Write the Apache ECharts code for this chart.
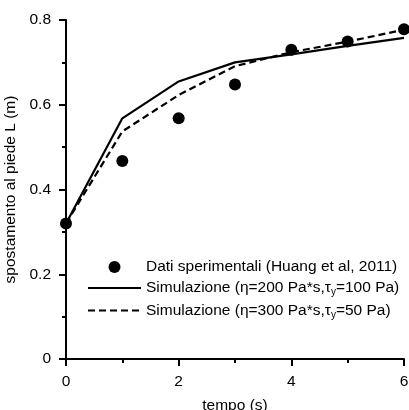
<!DOCTYPE html>
<html>
<head>
<meta charset="utf-8">
<script src="https://cdn.jsdelivr.net/npm/echarts@6/dist/echarts.min.js"></script>
<style>
  html, body { margin: 0; padding: 0; background: #fff; }
  #chart { width: 409px; height: 410px; }
</style>
</head>
<body>
<div id="chart"></div>
<script>
// tempo (s)
const tempo = [0, 1, 2, 3, 4, 5, 6];
// experimental points
const datiSperimentali = [0.32, 0.467, 0.568, 0.648, 0.73, 0.749, 0.778];
// simulation eta=200, tau_y=100
const sim200 = [0.32, 0.568, 0.655, 0.70, 0.719, 0.739, 0.758];
// simulation eta=300, tau_y=50
const sim300 = [0.32, 0.537, 0.623, 0.691, 0.724, 0.749, 0.777];

const names = ['Dati sperimentali (Huang et al, 2011)', 'Simulazione 200', 'Simulazione 300'];
const legendText = {
  'Dati sperimentali (Huang et al, 2011)': '{a|Dati sperimentali (Huang et al, 2011)}',
  'Simulazione 200': '{a|Simulazione (η=200 Pa*s,τ}{s|y}{a|=100 Pa)}',
  'Simulazione 300': '{a|Simulazione (η=300 Pa*s,τ}{s|y}{a|=50 Pa)}'
};

function pairs(ys) {
  return tempo.map((t, i) => [t, ys[i]]);
}

const font = 'Liberation Sans, Arial, sans-serif';
const fs = 15.5;
const myChart = echarts.init(document.getElementById('chart'));
const option = {
  backgroundColor: '#fff',
  animation: false,
  grid: { left: 66, right: 5, top: 20, bottom: 51, outerBoundsMode: 'none', containLabel: false },
  legend: {
    orient: 'vertical',
    left: 82,
    top: 254,
    itemWidth: 53,
    itemHeight: 12,
    itemGap: 5,
    data: [
      { name: names[0], icon: 'circle' },
      { name: names[1], itemStyle: { opacity: 0 } },
      { name: names[2], itemStyle: { opacity: 0 } }
    ],
    formatter: n => legendText[n],
    textStyle: {
      rich: {
        a: { fontFamily: font, fontSize: fs, color: '#000' },
        s: { fontFamily: font, fontSize: 10, color: '#000', verticalAlign: 'bottom', padding: [9, 0, 0, 0] }
      }
    }
  },
  xAxis: {
    type: 'value',
    min: 0, max: 6, interval: 2,
    name: 'tempo (s)',
    nameLocation: 'middle',
    nameGap: 39,
    nameTextStyle: { fontFamily: font, fontSize: fs, color: '#000' },
    axisLine: { onZero: false, lineStyle: { color: '#000', width: 2 } },
    axisTick: { length: 7, lineStyle: { color: '#000', width: 2 } },
    minorTick: { show: true, splitNumber: 2, length: 4, lineStyle: { color: '#000', width: 2 } },
    axisLabel: { fontFamily: font, fontSize: fs, color: '#000', margin: 15 },
    splitLine: { show: false }
  },
  yAxis: {
    type: 'value',
    min: 0, max: 0.8, interval: 0.2,
    name: 'spostamento al piede L (m)',
    nameLocation: 'middle',
    nameGap: 35,
    nameTextStyle: { fontFamily: font, fontSize: fs, color: '#000' },
    axisLine: { show: true, onZero: false, lineStyle: { color: '#000', width: 2 } },
    axisTick: { show: true, length: 7, lineStyle: { color: '#000', width: 2 } },
    minorTick: { show: true, splitNumber: 2, length: 4, lineStyle: { color: '#000', width: 2 } },
    axisLabel: { fontFamily: font, fontSize: fs, color: '#000', margin: 15,
      formatter: v => String(Math.round(v * 10) / 10) },
    splitLine: { show: false }
  },
  series: [
    {
      name: names[1],
      type: 'line',
      data: pairs(sim200),
      symbol: 'none',
      lineStyle: { color: '#000', width: 2.2, type: 'solid' },
      itemStyle: { color: '#000' }
    },
    {
      name: names[2],
      type: 'line',
      data: pairs(sim300),
      symbol: 'none',
      lineStyle: { color: '#000', width: 2.2, type: [7, 4] },
      itemStyle: { color: '#000' }
    },
    {
      name: names[0],
      type: 'scatter',
      data: pairs(datiSperimentali),
      symbol: 'circle',
      symbolSize: 12,
      clip: false,
      itemStyle: { color: '#000', opacity: 1 }
    }
  ]
};
myChart.setOption(option);
</script>
</body>
</html>
